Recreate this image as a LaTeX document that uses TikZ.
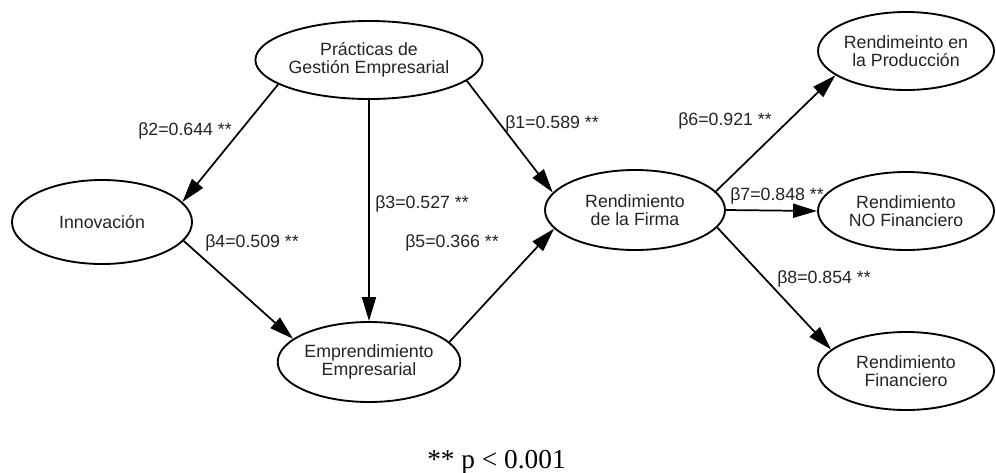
\documentclass[tikz,border=0pt]{standalone}
\usepackage{fontspec}
\setmainfont{Liberation Sans}
\newfontfamily\seriffont{Liberation Serif}
\usetikzlibrary{arrows.meta,shapes.geometric}
\definecolor{txt}{RGB}{35,35,35}
\begin{document}
\begin{tikzpicture}[x=0.75pt,y=-0.75pt,
  ell/.style={draw=black, line width=1.4pt, ellipse, inner sep=0pt,
    minimum width=135pt, minimum height=60pt, align=center,
    font=\fontsize{13.3}{13.8}\selectfont, text=txt},
  rell/.style={ell, minimum width=132pt, minimum height=58.5pt},
  arr/.style={line width=1.3pt, -{Triangle[length=18pt,width=10.5pt]}},
  lbl/.style={font=\fontsize{13.3}{14}\selectfont, text=txt, inner sep=0pt, anchor=base west}]
\useasboundingbox (0,0) rectangle (996,472);
\node[ell, minimum height=58.5pt] (pg) at (369,60) {Prácticas de\\Gestión Empresarial};
\node[ell, minimum height=63pt] (inn) at (102,222) {Innovación};
\node[ell] (ee) at (369,362) {Emprendimiento\\Empresarial};
\node[ell] (rf) at (635,210) {Rendimiento\\de la Firma};
\node[rell] (rp) at (906,51) {Rendimeinto en\\la Producción};
\node[rell] (rn) at (906,211) {Rendimiento\\NO Financiero};
\node[rell] (rfi) at (906,371) {Rendimiento\\Financiero};
\draw[arr] (pg.195) -- (inn.14);
\draw[arr] (pg.south) -- (ee.north);
\draw[arr] (pg.348.5) -- (rf.168);
\draw[arr] (inn.347) -- (ee.163.7);
\draw[arr] (ee.14) -- (rf.193.5);
\draw[arr] (rf.13.8) -- (rp.199.6);
\draw[arr] (rf.east) -- (rn.west);
\draw[arr] (rf.348.5) -- (rfi.164.6);
\node[lbl] (l2) at (138,135) {β2=0.644 **};
\node[lbl] (l1) at (505,128) {β1=0.589 **};
\node[lbl] (l3) at (375,208) {β3=0.527 **};
\node[lbl] (l4) at (205,247) {β4=0.509 **};
\node[lbl] (l5) at (405,247) {β5=0.366 **};
\node[lbl] (l6) at (678,125) {β6=0.921 **};
\node[lbl] (l7) at (730,200) {β7=0.848 **};
\node[lbl] (l8) at (777,283) {β8=0.854 **};
\node[anchor=base west, inner sep=0pt, font=\seriffont\fontsize{20.5}{22}\selectfont] (fn) at (427,468) {** p < 0.001};
\end{tikzpicture}
\end{document}
